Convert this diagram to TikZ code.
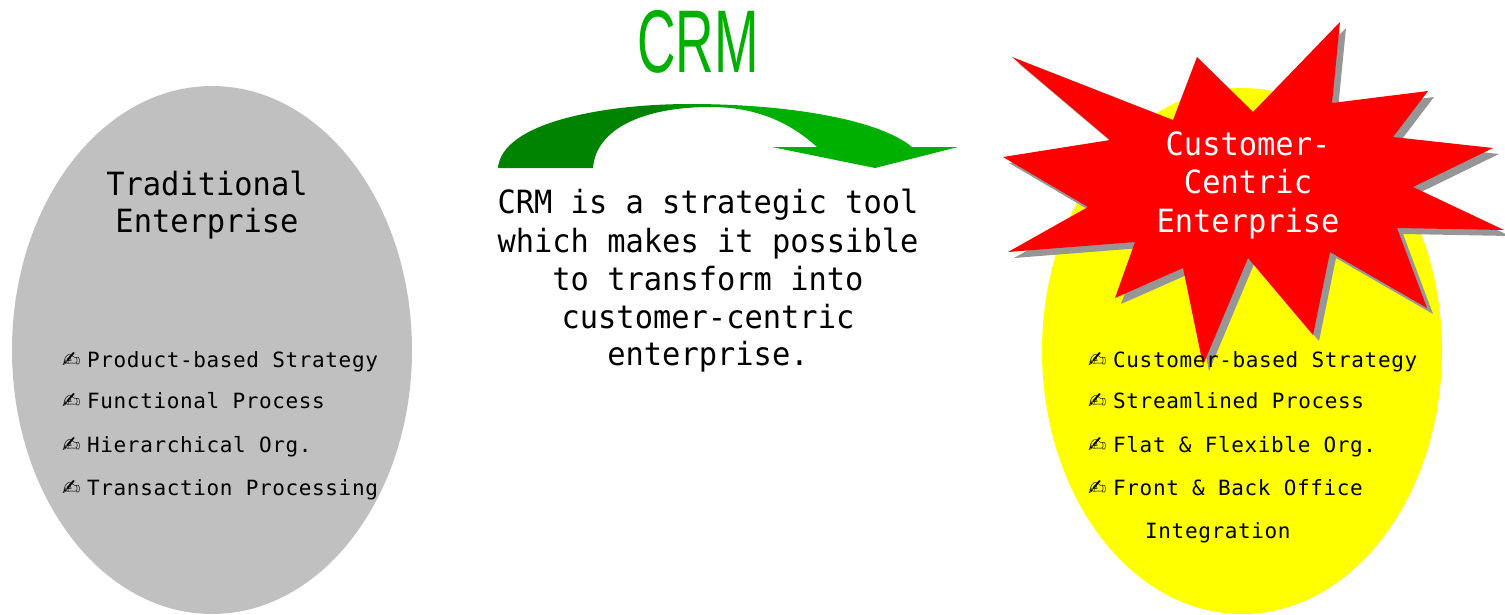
\documentclass[tikz,border=0pt]{standalone}
\usepackage{fontspec}
\setmainfont{DejaVu Sans Mono}
\newfontfamily\bigf{DejaVu Sans Mono}[FakeStretch=0.95]
\newfontfamily\smallf{DejaVu Sans Mono}[LetterSpace=3]
\newfontfamily\crmf{Liberation Sans}[FakeStretch=0.6]
\newfontfamily\symf{DejaVu Sans}
\definecolor{ellgray}{HTML}{C0C0C0}
\definecolor{ellyellow}{HTML}{FFFF00}
\definecolor{starred}{HTML}{FF0000}
\definecolor{shadowgray}{HTML}{969696}
\definecolor{crmgreen}{HTML}{00B000}
\definecolor{dkg}{HTML}{008400}
\definecolor{ltg}{HTML}{00B000}
\pgfdeclarehorizontalshading{arrowshade}{100bp}{color(0bp)=(dkg); color(42bp)=(dkg); color(52bp)=(ltg); color(100bp)=(ltg)}
\tikzset{
  bigtext/.style={font=\bigf\fontsize{32}{36}\selectfont, inner sep=0pt, anchor=base},
  bullettext/.style={font=\smallf\fontsize{21}{24}\selectfont, inner sep=0pt, anchor=base west},
}
\newcommand{\bul}{\makebox[25pt][l]{\symf\fontsize{22}{22}\selectfont\char"270D}}
\begin{document}
\begin{tikzpicture}[x=1pt,y=-1pt]
\useasboundingbox (0,0) rectangle (1505,614);
% ellipses
\fill[ellgray] (212,350) ellipse [x radius=200, y radius=264];
\fill[ellyellow] (1242,351) ellipse [x radius=200, y radius=263];
% star
\def\starpath{(1012,57) -- (1173,120) -- (1197,57) -- (1253,112) -- (1340,22) -- (1332,103) -- (1428,91) -- (1393,137) -- (1493,148) -- (1413,187) -- (1504,230) -- (1397,228) -- (1427,308) -- (1330,252) -- (1313,335) -- (1248,258) -- (1203,365) -- (1183,268) -- (1115,298) -- (1135,242) -- (1008,252) -- (1088,207) -- (1003,157) -- (1110,140) -- cycle}
\fill[shadowgray, shift={(6,6)}] \starpath;
\fill[starred] \starpath;
% arrow
\shade[shading=arrowshade]
  (498,168) .. controls (502,122) and (605,104) .. (690,104)
  .. controls (790,104) and (880,120) .. (912,147)
  -- (958,147) -- (875,168) -- (772,147) -- (817,147)
  .. controls (785,118) and (750,107) .. (710,107)
  .. controls (645,107) and (596,128) .. (593,168) -- cycle;
% CRM title
\node[font=\crmf\fontsize{89}{89}\selectfont, text=crmgreen, inner sep=0pt, anchor=base] (crm) at (698,72) {CRM};
% left title
\node[bigtext] (tl1) at (207,195) {Traditional};
\node[bigtext] (tl2) at (207,232) {Enterprise};
% middle text
\node[bigtext] (m1) at (708,213) {CRM is a strategic tool};
\node[bigtext] (m2) at (708,252) {which makes it possible};
\node[bigtext] (m3) at (708,290) {to transform into};
\node[bigtext] (m4) at (708,328) {customer-centric};
\node[bigtext] (m5) at (708,365) {enterprise.};
% star text
\node[bigtext, text=white] (s1) at (1248,155) {Customer-};
\node[bigtext, text=white] (s2) at (1248,193) {Centric};
\node[bigtext, text=white] (s3) at (1248,232) {Enterprise};
% left bullets
\node[bullettext] (l1) at (62,367) {\bul Product-based Strategy};
\node[bullettext] (l2) at (62,408) {\bul Functional Process};
\node[bullettext] (l3) at (62,452) {\bul Hierarchical Org.};
\node[bullettext] (l4) at (62,495) {\bul Transaction Processing};
% right bullets
\node[bullettext] (r1) at (1088,367) {\bul Customer-based Strategy};
\node[bullettext] (r2) at (1088,408) {\bul Streamlined Process};
\node[bullettext] (r3) at (1088,452) {\bul Flat \& Flexible Org.};
\node[bullettext] (r4) at (1088,495) {\bul Front \& Back Office};
\node[bullettext] (r5) at (1145,538) {Integration};
\end{tikzpicture}
\end{document}
